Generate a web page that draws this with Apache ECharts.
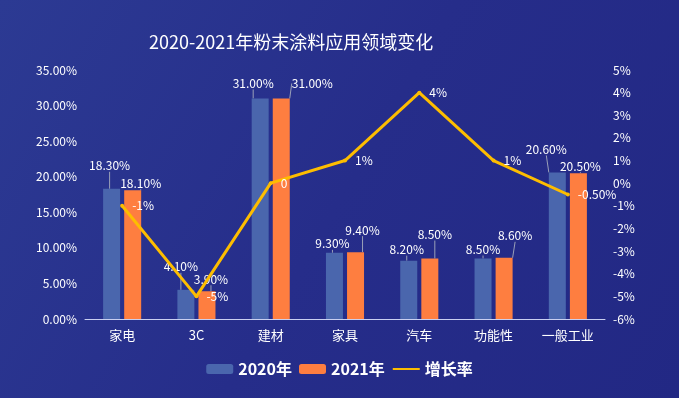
<!DOCTYPE html>
<html>
<head>
<meta charset="utf-8">
<script src="https://cdn.jsdelivr.net/npm/echarts@6/dist/echarts.min.js"></script>
<style>
  html, body { margin: 0; padding: 0; }
  #main { width: 679px; height: 398px; }
</style>
</head>
<body>
<div id="main"></div>
<script>
var categories = ['家电', '3C', '建材', '家具', '汽车', '功能性', '一般工业']
var share2020 = [18.3, 4.1, 31.0, 9.3, 8.2, 8.5, 20.6]
var share2021 = [18.1, 3.9, 31.0, 9.4, 8.5, 8.6, 20.5]
var growth = [-1, -5, 0, 1, 4, 1, -0.5]
var growthLabels = ['-1%', '-5%', '0', '1%', '4%', '1%', '-0.50%']

// label nudges so the overlapping bar labels spread out like the original
var nudge2020 = [[-2, -12], [-5, -12], [-7, -4], [-2, 2], [-2, 0], [0, 2], [-11, -12]]
var nudge2021 = [[8, 4], [4, -1], [31, -4], [7, -11], [5, -13], [11, -11], [2, 4]]

var font = '"Noto Sans CJK SC", "Noto Sans", sans-serif'

function barLabel () {
  return {
    show: true,
    position: 'top',
    color: '#fff',
    fontSize: 12,
    fontFamily: font,
    formatter: function (p) { return p.value.toFixed(2) + '%' }
  }
}

function nudgeLayout (list) {
  return function (params) {
    var n = list[params.dataIndex]
    return { dx: n[0], dy: n[1] }
  }
}

var myChart = echarts.init(document.getElementById('main'))
myChart.setOption({
  backgroundColor: new echarts.graphic.LinearGradient(0, 0, 1, 1, [
    { offset: 0, color: '#2c3a93' },
    { offset: 0.5, color: '#262d8a' },
    { offset: 1, color: '#222884' }
  ]),
  title: {
    text: '2020-2021年粉末涂料应用领域变化',
    left: 144,
    top: 28,
    textStyle: { color: '#fff', fontSize: 18, fontWeight: 'normal', fontFamily: font }
  },
  legend: {
    bottom: 16,
    left: 'center',
    itemWidth: 27,
    itemHeight: 10,
    itemGap: 7,
    textStyle: { color: '#fff', fontSize: 16, fontWeight: 'bold', fontFamily: font },
    data: ['2020年', '2021年', { name: '增长率', itemStyle: { opacity: 0 } }]
  },
  grid: { left: 85, right: 74, top: 70, bottom: 79 },
  xAxis: {
    type: 'category',
    data: categories,
    axisTick: { show: false },
    axisLine: { lineStyle: { color: '#c9cff0' } },
    axisLabel: { color: '#fff', fontSize: 13, margin: 10, fontFamily: font }
  },
  yAxis: [
    {
      type: 'value',
      min: 0,
      max: 35,
      interval: 5,
      splitLine: { show: false },
      axisLabel: {
        color: '#fff', fontSize: 12, fontFamily: font,
        formatter: function (v) { return v.toFixed(2) + '%' }
      }
    },
    {
      type: 'value',
      min: -6,
      max: 5,
      interval: 1,
      splitLine: { show: false },
      axisLabel: { color: '#fff', fontSize: 12, fontFamily: font, formatter: '{value}%' }
    }
  ],
  series: [
    {
      name: '2020年',
      type: 'bar',
      barWidth: 17,
      barGap: '24%',
      itemStyle: { color: '#4a66ad' },
      label: barLabel(),
      labelLine: { show: true, lineStyle: { color: '#9aa0b8', width: 1 } },
      labelLayout: nudgeLayout(nudge2020),
      data: share2020
    },
    {
      name: '2021年',
      type: 'bar',
      barWidth: 17,
      itemStyle: { color: '#fe7e40' },
      label: barLabel(),
      labelLine: { show: true, lineStyle: { color: '#9aa0b8', width: 1 } },
      labelLayout: nudgeLayout(nudge2021),
      data: share2021
    },
    {
      name: '增长率',
      type: 'line',
      yAxisIndex: 1,
      symbol: 'circle',
      symbolSize: 4,
      lineStyle: { color: '#fdbd00', width: 3 },
      itemStyle: { color: '#fdbd00' },
      label: {
        show: true,
        position: 'right',
        distance: 8,
        color: '#fff',
        fontSize: 12,
        fontFamily: font,
        formatter: function (p) { return growthLabels[p.dataIndex] }
      },
      data: growth
    }
  ]
})
</script>
</body>
</html>
